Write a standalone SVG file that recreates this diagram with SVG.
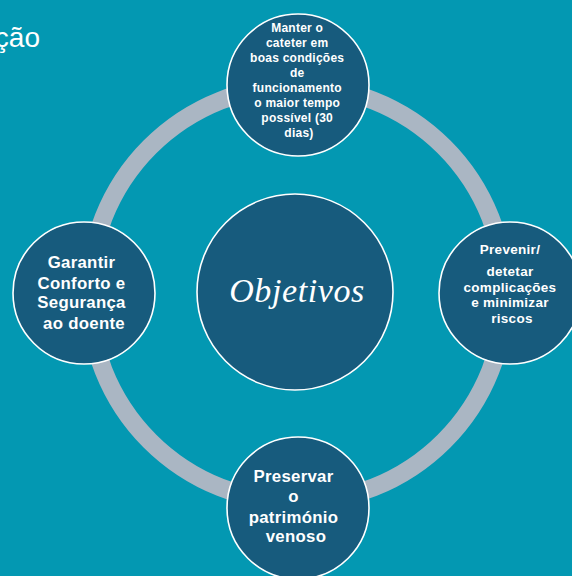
<svg xmlns="http://www.w3.org/2000/svg" width="572" height="576" viewBox="0 0 572 576">
  <style>
    .bg { fill: #0398B2; }
    .ring { fill: none; stroke: #AAB6C3; stroke-width: 18; }
    .node { fill: #175B7D; stroke: #FFFFFF; stroke-width: 1.6; }
    .lbl { fill: #FFFFFF; font-family: "Liberation Sans", Arial, sans-serif; font-weight: bold; text-anchor: middle; }
    .sm { font-size: 12px; letter-spacing: 0.25px; }
    .md { font-size: 13.5px; letter-spacing: 0.3px; }
    .lg { font-size: 16.8px; letter-spacing: 0.3px; }
    .title { fill: #FFFFFF; font-family: "Liberation Serif", "Times New Roman", serif; font-style: italic; font-size: 34px; letter-spacing: 0.6px; text-anchor: middle; }
    .heading { fill: #FFFFFF; font-family: "Liberation Sans", Arial, sans-serif; font-size: 28px; text-anchor: end; }
  </style>

  <rect class="bg" x="0" y="0" width="572" height="576"/>

  <!-- slide heading fragment -->
  <text class="heading" x="40" y="47">ção</text>

  <!-- cycle ring joining the outer nodes -->
  <g id="connectors">
    <circle class="ring" cx="297" cy="294" r="208"/>
  </g>

  <g id="center">
    <circle class="node" cx="295" cy="292" r="98"/>
    <text class="title" x="297" y="302">Objetivos</text>
  </g>

  <g id="node-top">
    <circle class="node" cx="298" cy="85" r="71"/>
    <text class="lbl sm">
      <tspan x="299" y="32">Manter o</tspan>
      <tspan x="299" y="47">cateter em</tspan>
      <tspan x="299" y="62">boas condições</tspan>
      <tspan x="299" y="77">de</tspan>
      <tspan x="299" y="92">funcionamento</tspan>
      <tspan x="299" y="107">o maior tempo</tspan>
      <tspan x="299" y="122">possível (30</tspan>
      <tspan x="299" y="137">dias)</tspan>
    </text>
  </g>

  <g id="node-right">
    <circle class="node" cx="510" cy="293" r="71"/>
    <text class="lbl md">
      <tspan x="512" y="254">Prevenir/</tspan>
      <tspan x="512" y="276">detetar</tspan>
      <tspan x="512" y="292">complicações</tspan>
      <tspan x="512" y="307">e minimizar</tspan>
      <tspan x="512" y="323">riscos</tspan>
    </text>
  </g>

  <g id="node-bottom">
    <circle class="node" cx="298" cy="508" r="71"/>
    <text class="lbl lg">
      <tspan x="296" y="482">Preservar</tspan>
      <tspan x="296" y="502">o</tspan>
      <tspan x="296" y="523">património</tspan>
      <tspan x="296" y="542">venoso</tspan>
    </text>
  </g>

  <g id="node-left">
    <circle class="node" cx="84" cy="293" r="71"/>
    <text class="lbl lg">
      <tspan x="84" y="268">Garantir</tspan>
      <tspan x="84" y="289">Conforto e</tspan>
      <tspan x="84" y="308">Segurança</tspan>
      <tspan x="84" y="329">ao doente</tspan>
    </text>
  </g>
</svg>
